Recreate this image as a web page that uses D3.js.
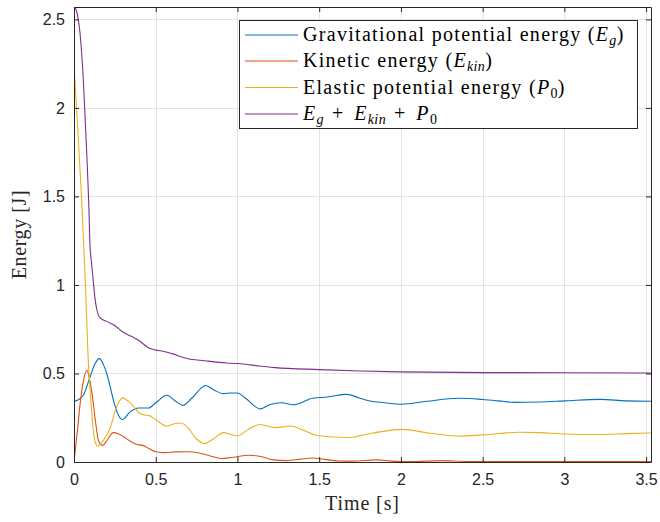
<!DOCTYPE html>
<html>
<head>
<meta charset="utf-8">
<script src="https://cdn.jsdelivr.net/npm/d3@7"></script>
<style>
  body { margin: 0; background: #fff; }
  svg { display: block; }
</style>
</head>
<body>
<svg id="chart" width="660" height="522"></svg>
<script>
// Tick values for both axes
const timeTicks = [0, 0.5, 1, 1.5, 2, 2.5, 3, 3.5];
const energyTicks = [0, 0.5, 1, 1.5, 2, 2.5];

// [time (s), energy (J)] samples for each energy component
const gravitational = [
  [0, 0.343], [0.027, 0.352], [0.057, 0.377], [0.098, 0.48], [0.129, 0.556],
  [0.155, 0.584], [0.18, 0.55], [0.2, 0.5], [0.22, 0.43], [0.241, 0.349],
  [0.272, 0.264], [0.296, 0.24], [0.343, 0.283], [0.394, 0.305], [0.455, 0.305],
  [0.506, 0.339], [0.567, 0.377], [0.62, 0.345], [0.665, 0.32], [0.72, 0.36],
  [0.806, 0.432], [0.86, 0.405], [0.914, 0.386], [0.96, 0.39], [1.0, 0.39],
  [1.05, 0.36], [1.14, 0.3], [1.2, 0.325], [1.27, 0.335], [1.34, 0.323],
  [1.46, 0.36], [1.55, 0.367], [1.67, 0.382], [1.75, 0.36], [1.81, 0.345],
  [1.9, 0.335], [2.005, 0.326], [2.16, 0.343], [2.35, 0.36], [2.5, 0.353],
  [2.6, 0.345], [2.69, 0.337], [2.85, 0.339], [3.0, 0.345], [3.22, 0.354],
  [3.38, 0.345], [3.53, 0.343]
];

const kinetic = [
  [0, 0], [0.02, 0.17], [0.04, 0.35], [0.06, 0.47], [0.078, 0.518],
  [0.095, 0.47], [0.11, 0.39], [0.13, 0.24], [0.15, 0.12], [0.175, 0.094],
  [0.2, 0.12], [0.24, 0.166], [0.27, 0.16], [0.3, 0.145], [0.34, 0.12],
  [0.38, 0.1], [0.42, 0.094], [0.46, 0.075], [0.5, 0.058], [0.56, 0.053],
  [0.62, 0.057], [0.7, 0.058], [0.76, 0.052], [0.83, 0.035], [0.9, 0.02],
  [0.96, 0.025], [1.07, 0.038], [1.15, 0.03], [1.22, 0.012], [1.3, 0.008],
  [1.38, 0.015], [1.46, 0.023], [1.53, 0.015], [1.62, 0.006], [1.7, 0.005],
  [1.85, 0.012], [1.95, 0.005], [2.05, 0.002], [2.25, 0.008], [2.4, 0.003],
  [2.6, 0.002], [2.8, 0.003], [3.0, 0.002], [3.2, 0.002], [3.53, 0.002]
];

const elastic = [
  [0, 2.24], [0.02, 1.93], [0.047, 1.48], [0.07, 1.0], [0.088, 0.56],
  [0.1, 0.39], [0.12, 0.16], [0.135, 0.1], [0.145, 0.089], [0.16, 0.1],
  [0.18, 0.123], [0.22, 0.189], [0.26, 0.31], [0.298, 0.362], [0.33, 0.345],
  [0.363, 0.315], [0.4, 0.275], [0.435, 0.265], [0.46, 0.262], [0.5, 0.24],
  [0.567, 0.202], [0.62, 0.217], [0.655, 0.22], [0.7, 0.19], [0.75, 0.13],
  [0.8, 0.104], [0.85, 0.13], [0.914, 0.166], [0.96, 0.155], [1.0, 0.147],
  [1.06, 0.18], [1.138, 0.212], [1.23, 0.194], [1.33, 0.203], [1.4, 0.18],
  [1.5, 0.148], [1.67, 0.138], [1.83, 0.164], [2.01, 0.184], [2.18, 0.162],
  [2.36, 0.146], [2.5, 0.153], [2.73, 0.168], [2.85, 0.166], [3.0, 0.158],
  [3.2, 0.155], [3.38, 0.16], [3.53, 0.164]
];

const total = [
  [0, 2.571], [0.01, 2.56], [0.02, 2.53], [0.037, 2.42], [0.057, 2.16],
  [0.07, 1.9], [0.08, 1.7], [0.09, 1.47], [0.098, 1.22], [0.108, 1.12],
  [0.118, 1.02], [0.129, 0.92], [0.14, 0.86], [0.159, 0.815], [0.21, 0.79],
  [0.25, 0.77], [0.29, 0.74], [0.35, 0.71], [0.4, 0.685], [0.45, 0.648],
  [0.5, 0.632], [0.547, 0.626], [0.6, 0.612], [0.69, 0.585], [0.8, 0.572],
  [0.934, 0.559], [1.0, 0.556], [1.138, 0.542], [1.23, 0.533], [1.5, 0.522],
  [1.75, 0.514], [2.0, 0.509], [2.5, 0.505], [3.0, 0.504], [3.53, 0.503]
];

const seriesColors = ["#0072BD", "#D95319", "#EDB120", "#7E2F8E"];

const svg = d3.select("#chart");
const margin = { left: 74, right: 9, top: 7, bottom: 60 };
const W = 660, H = 522;
const innerW = W - margin.left - margin.right;
const innerH = H - margin.top - margin.bottom;

const x = d3.scaleLinear().domain([0, 3.53]).range([margin.left, margin.left + innerW]);
const y = d3.scaleLinear().domain([0, 2.57]).range([margin.top + innerH, margin.top]);

const axisColor = "#262626";
const tickFont = "'Liberation Sans', Arial, sans-serif";
const serifFont = "'Liberation Serif', 'Times New Roman', serif";

// Grid lines
const grid = svg.append("g").attr("stroke", "#e3e3e3").attr("stroke-width", 1);
timeTicks.forEach(t => {
  grid.append("line")
    .attr("x1", Math.round(x(t)) + 0.5).attr("x2", Math.round(x(t)) + 0.5)
    .attr("y1", margin.top).attr("y2", margin.top + innerH);
});
energyTicks.forEach(v => {
  grid.append("line")
    .attr("y1", Math.round(y(v)) + 0.5).attr("y2", Math.round(y(v)) + 0.5)
    .attr("x1", margin.left).attr("x2", margin.left + innerW);
});

// Data lines
svg.append("clipPath").attr("id", "plot-clip")
  .append("rect")
  .attr("x", margin.left).attr("y", margin.top)
  .attr("width", innerW).attr("height", innerH);

const line = d3.line()
  .x(d => x(d[0]))
  .y(d => y(d[1]))
  .curve(d3.curveMonotoneX);

const plot = svg.append("g").attr("clip-path", "url(#plot-clip)");
[gravitational, kinetic, elastic, total].forEach((s, i) => {
  plot.append("path")
    .datum(s)
    .attr("d", line)
    .attr("fill", "none")
    .attr("stroke", seriesColors[i])
    .attr("stroke-width", 1.1)
    .attr("stroke-linejoin", "round");
});

// Axes with inward ticks on all four sides
const tickLen = 5;
const bottomAxis = d3.axisBottom(x).tickValues(timeTicks).tickSizeInner(-tickLen).tickSizeOuter(0)
  .tickPadding(12).tickFormat(d3.format("~g"));
const topAxis = d3.axisTop(x).tickValues(timeTicks).tickSizeInner(-tickLen).tickSizeOuter(0).tickFormat("");
const leftAxis = d3.axisLeft(y).tickValues(energyTicks).tickSizeInner(-tickLen).tickSizeOuter(0)
  .tickPadding(9).tickFormat(d3.format("~g"));
const rightAxis = d3.axisRight(y).tickValues(energyTicks).tickSizeInner(-tickLen).tickSizeOuter(0).tickFormat("");

function styleAxis(g) {
  g.selectAll("path").attr("stroke", axisColor).attr("stroke-width", 1);
  g.selectAll("line").attr("stroke", axisColor).attr("stroke-width", 1);
  g.selectAll("text").attr("fill", axisColor).attr("font-family", tickFont).attr("font-size", 16);
}

svg.append("g").attr("transform", `translate(0,${margin.top + innerH})`).call(bottomAxis).call(styleAxis);
svg.append("g").attr("transform", `translate(0,${margin.top})`).call(topAxis).call(styleAxis);
svg.append("g").attr("transform", `translate(${margin.left},0)`).call(leftAxis).call(styleAxis);
svg.append("g").attr("transform", `translate(${margin.left + innerW},0)`).call(rightAxis).call(styleAxis);

// Axis titles
svg.append("text")
  .attr("x", margin.left + innerW / 2).attr("y", 510)
  .attr("text-anchor", "middle")
  .attr("font-family", serifFont).attr("font-size", 20).attr("letter-spacing", 0.9)
  .attr("fill", axisColor)
  .text("Time [s]");

svg.append("text")
  .attr("transform", `translate(26,${margin.top + innerH / 2}) rotate(-90)`)
  .attr("text-anchor", "middle")
  .attr("font-family", serifFont).attr("font-size", 20).attr("letter-spacing", 0.6)
  .attr("fill", axisColor)
  .text("Energy [J]");

// Legend
const legendBox = { x: 239.5, y: 20.5, w: 398, h: 108 };
const legend = svg.append("g");
legend.append("rect")
  .attr("x", legendBox.x).attr("y", legendBox.y)
  .attr("width", legendBox.w).attr("height", legendBox.h)
  .attr("fill", "#fff").attr("stroke", axisColor).attr("stroke-width", 1);

// Each label: list of [text, italic, subscript, operator]
const legendLabels = [
  [["Gravitational potential energy (", false, false], ["E", true, false], ["g", true, true], [")", false, false]],
  [["Kinetic energy (", false, false], ["E", true, false], ["kin", true, true], [")", false, false]],
  [["Elastic potential energy (", false, false], ["P", true, false], ["0", false, true], [")", false, false]],
  [["E", true, false], ["g", true, true], [" + ", false, false, true], ["E", true, false], ["kin", true, true],
   [" + ", false, false, true], ["P", true, false], ["0", false, true]]
];
const rowY = [35, 61, 87.5, 114];

legendLabels.forEach((parts, i) => {
  legend.append("line")
    .attr("x1", 245).attr("x2", 298)
    .attr("y1", rowY[i]).attr("y2", rowY[i])
    .attr("stroke", seriesColors[i]).attr("stroke-width", 1.1);
  const txt = legend.append("text")
    .attr("x", 303).attr("y", rowY[i] + 6)
    .attr("font-family", serifFont).attr("font-size", 20).attr("letter-spacing", 1.3)
    .attr("fill", "#000")
    .attr("xml:space", "preserve")
    .style("white-space", "pre");
  let lowered = false;
  parts.forEach(([s, it, sub, op]) => {
    const ts = txt.append("tspan").text(s)
      .attr("font-style", it ? "italic" : "normal");
    if (op) ts.attr("letter-spacing", 3);
    if (sub) {
      ts.attr("font-size", 14).attr("letter-spacing", 0.4);
      if (!lowered) { ts.attr("dy", 4); lowered = true; }
    } else if (lowered) {
      ts.attr("dy", -4); lowered = false;
    }
  });
});
</script>
</body>
</html>
